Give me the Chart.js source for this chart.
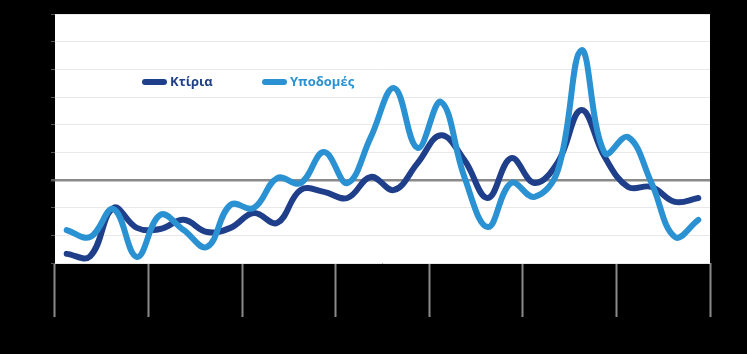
<!DOCTYPE html>
<html>
<head>
<meta charset="utf-8">
<script src="https://cdn.jsdelivr.net/npm/chart.js@4"></script>
<style>
  html, body { margin: 0; padding: 0; background: #000; }
  #wrap { width: 747px; height: 354px; }
</style>
</head>
<body>
<div id="wrap"><canvas id="chart"></canvas></div>
<script>
// Δεδομένα (τριμηνιαία, 7 έτη)
const quarters = [];
for (let y = 1; y <= 7; y++) {
    for (let q = 1; q <= 4; q++) quarters.push('Y' + y + 'Q' + q);
}
const years = ['1', '2', '3', '4', '5', '6', '7'];

const ktiria = [-26.7, -27.6, -10.1, -17.3, -17.7, -14.4, -18.8, -17.3,
    -11.9, -15.5, -3.6, -4.3, -6.5, 1.1, -3.6, 6.1,
    16.2, 7.2, -6.5, 7.9, -1.1, 6.5, 25.3, 8.3,
    -2.5, -2.5, -7.9, -6.5];
const ypodomes = [-18.1, -20.6, -10.5, -27.8, -12.6, -18.1, -24.2, -9.0,
    -10.1, 0.7, -1.1, 10.1, -1.1, 15.5, 33.2, 11.6,
    28.2, 1.1, -17.0, -1.1, -6.1, 3.6, 46.9, 9.7,
    15.5, -1.1, -20.6, -14.4];

const seriesNames = ['Κτίρια', 'Υποδομές'];
const seriesColors = ['#203f8a', '#2a91d2'];

// λευκό φόντο στην περιοχή του γραφήματος
const plotBg = {
    id: 'plotBg',
    beforeDraw(chart) {
        const a = chart.chartArea;
        const ctx = chart.ctx;
        ctx.save();
        ctx.fillStyle = '#ffffff';
        ctx.fillRect(a.left, a.top, a.right - a.left, a.bottom - a.top);
        ctx.restore();
    }
};

// υπόμνημα μέσα στο γράφημα
const innerLegend = {
    id: 'innerLegend',
    afterDatasetsDraw(chart) {
        const ctx = chart.ctx;
        const xs = [142, 262];
        ctx.save();
        ctx.font = 'bold 13px "Open Sans", sans-serif';
        ctx.textBaseline = 'middle';
        seriesNames.forEach((name, i) => {
            ctx.strokeStyle = seriesColors[i];
            ctx.lineWidth = 6;
            ctx.lineCap = 'round';
            ctx.beginPath();
            ctx.moveTo(xs[i] + 3, 82);
            ctx.lineTo(xs[i] + 22, 82);
            ctx.stroke();
            ctx.fillStyle = seriesColors[i];
            ctx.fillText(name, xs[i] + 28, 82);
        });
        ctx.restore();
    }
};

new Chart(document.getElementById('chart'), {
    type: 'line',
    data: {
        labels: quarters,
        datasets: [{
            label: seriesNames[0],
            data: ktiria,
            borderColor: seriesColors[0],
            backgroundColor: seriesColors[0],
            borderWidth: 6,
            pointRadius: 0,
            tension: 0.4,
            borderCapStyle: 'round',
            order: 2
        }, {
            label: seriesNames[1],
            data: ypodomes,
            borderColor: seriesColors[1],
            backgroundColor: seriesColors[1],
            borderWidth: 6,
            pointRadius: 0,
            tension: 0.4,
            borderCapStyle: 'round',
            order: 1
        }]
    },
    options: {
        responsive: true,
        maintainAspectRatio: false,
        animation: false,
        layout: { padding: { top: 14, right: 37, left: 0, bottom: 0 } },
        plugins: {
            legend: { display: false },
            tooltip: { enabled: false }
        },
        scales: {
            x: {
                type: 'category',
                offset: true,
                display: false
            },
            years: {
                type: 'category',
                labels: years,
                position: 'bottom',
                offset: true,
                grid: {
                    offset: true,
                    drawOnChartArea: false,
                    tickLength: 54,
                    tickWidth: 2,
                    tickColor: '#8a8a8a'
                },
                border: { display: false },
                ticks: { display: false },
                afterFit(scale) { scale.height = 91; }
            },
            y: {
                min: -30,
                max: 60,
                ticks: { stepSize: 10, display: false },
                border: { display: false },
                grid: {
                    color: ctx => ctx.tick && ctx.tick.value === 0 ? '#8a8a8a' : '#e8e8e8',
                    lineWidth: ctx => ctx.tick && ctx.tick.value === 0 ? 2.5 : 1,
                    tickColor: '#555',
                    tickLength: 4
                },
                afterFit(scale) { scale.width = 55; }
            }
        }
    },
    plugins: [plotBg, innerLegend]
});
</script>
</body>
</html>
